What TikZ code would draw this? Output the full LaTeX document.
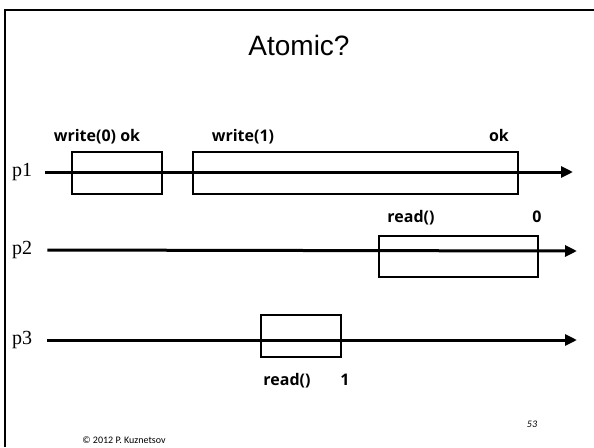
\documentclass[tikz,border=0pt]{standalone}
\usepackage{fontspec}
\usepackage{tikz}
\usetikzlibrary{arrows.meta,positioning}
\setmainfont{Liberation Serif}
\newfontfamily\titlefont{Liberation Sans}
\newfontfamily\opfont{Open Sans}
\newfontfamily\footfont{Carlito}
\tikzset{
  timeline/.style={-{Triangle[length=12pt,width=11pt]},line width=3pt,draw=black},
  opbox/.style={draw=black,line width=1.6pt,inner sep=0pt,
                minimum height=42pt},
  oplabel/.style={font=\opfont\bfseries\fontsize{16}{18}\selectfont,
                  inner sep=0pt,anchor=base},
  proc/.style={font=\fontsize{20}{22}\selectfont,inner sep=0pt,anchor=west}
}
\begin{document}
\begin{tikzpicture}[x=1pt,y=-1pt]
    \path[use as bounding box] (0,0) rectangle (594,447);
    \fill[white] (0,0) rectangle (594,447);
    % slide frame, top and left edges only
    \draw[line width=2pt] (5,447) -- (5,10) -- (594,10);
    \node[font=\titlefont\fontsize{28}{30}\selectfont] (title) at (299,45) {Atomic?};
    % processes
    \node[proc] (p1) at (12,172) {p1};
    \node[proc] (p2) at (12,250) {p2};
    \node[proc] (p3) at (12,340) {p3};
    \coordinate (e1) at (573,172);
    \coordinate (e2) at (577,251);
    \coordinate (e3) at (577,340);
    % operation intervals
    \node[opbox,minimum width=90pt] (w0) at (117,173) {};
    \node[opbox,minimum width=325pt] (w1) at (355.5,173) {};
    \node[opbox,minimum width=159pt,minimum height=41pt] (r2) at (458.5,256.5) {};
    \node[opbox,minimum width=80pt] (r3) at (301,336) {};
    \draw[timeline,shorten <=13pt] (p1.east) -- (e1);
    \draw[timeline,shorten <=15pt] (p2.east) -- (e2);
    \draw[timeline,shorten <=15pt] (p3.east) -- (e3);
    % invocation / response labels
    \node[oplabel] (w0lbl) at (97,141) {write(0) ok};
    \node[oplabel] (w1lbl) at (243,141) {write(1)};
    \node[oplabel] (w1ok) at (499,141) {ok};
    \node[oplabel] (r2lbl) at (411,222) {read()};
    \node[oplabel] (r2val) at (537,222) {0};
    \node[oplabel] (r3lbl) at (287,385) {read()};
    \node[oplabel] (r3val) at (345,385) {1};
    % footer
    \node[font=\footfont\fontsize{10}{11}\selectfont] (copy) at (124,440) {© 2012 P. Kuznetsov};
    \node[font=\footfont\itshape\fontsize{10}{11}\selectfont] (page) at (532,424) {53};
\end{tikzpicture}
\end{document}
